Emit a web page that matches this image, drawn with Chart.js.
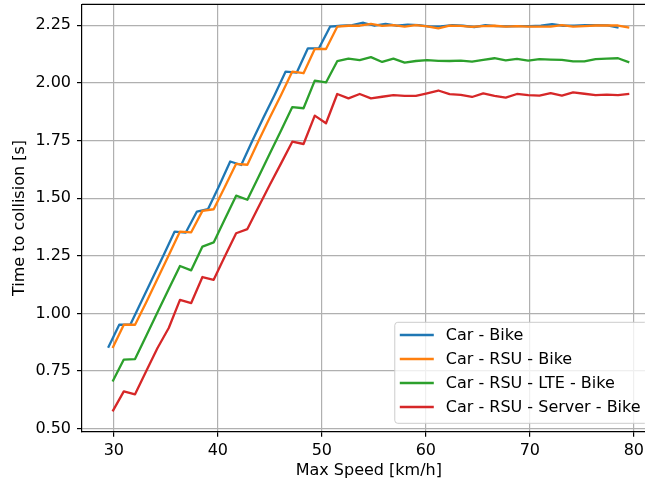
<!DOCTYPE html>
<html>
<head>
<meta charset="utf-8">
<script src="https://cdn.jsdelivr.net/npm/chart.js@4.4.0/dist/chart.umd.min.js"></script>
<style>
  html, body { margin: 0; padding: 0; background: #ffffff; overflow: hidden; width: 645px; height: 484px; }
  #wrap { position: absolute; left: 0; top: 0; width: 660px; height: 484px; }
</style>
</head>
<body>
<div id="wrap"><canvas id="c" width="660" height="484"></canvas></div>
<script>
// ---- data ----
const seriesNames = ['Car - Bike', 'Car - RSU - Bike', 'Car - RSU - LTE - Bike', 'Car - RSU - Server - Bike'];
const seriesColors = ['#1f77b4', '#ff7f0e', '#2ca02c', '#d62728'];

// speeds [km/h] for "Car - Bike"
const speedCarBike = [29.45, 30.52, 31.58, 32.65, 33.72, 34.79, 35.85, 36.92, 37.99, 39.05,
  40.12, 41.19, 42.25, 43.32, 44.39, 45.46, 46.52, 47.59, 48.66, 49.72,
  50.79, 51.86, 52.92, 53.99, 55.06, 56.13, 57.19, 58.26, 59.33, 60.39,
  61.46, 62.53, 63.59, 64.66, 65.73, 66.80, 67.86, 68.93, 70.00, 71.06,
  72.13, 73.20, 74.26, 75.33, 76.40, 77.47, 78.53];
// speeds [km/h] for the RSU variants
const speedRSU = [29.88, 30.96, 32.04, 33.12, 34.20, 35.28, 36.36, 37.44, 38.52, 39.60,
  40.68, 41.76, 42.84, 43.92, 45.00, 46.08, 47.16, 48.24, 49.32, 50.40,
  51.48, 52.56, 53.64, 54.72, 55.80, 56.88, 57.96, 59.04, 60.12, 61.20,
  62.28, 63.36, 64.44, 65.52, 66.60, 67.68, 68.76, 69.84, 70.92, 72.00,
  73.08, 74.16, 75.24, 76.32, 77.40, 78.48, 79.56];

const ttcCarBike = [0.851, 0.951, 0.951, 1.052, 1.153, 1.254, 1.355, 1.351, 1.442, 1.452,
  1.553, 1.659, 1.644, 1.749, 1.850, 1.948, 2.049, 2.045, 2.150, 2.150,
  2.244, 2.248, 2.251, 2.261, 2.248, 2.256, 2.248, 2.253, 2.251, 2.244,
  2.245, 2.251, 2.248, 2.242, 2.251, 2.246, 2.245, 2.246, 2.246, 2.248,
  2.255, 2.248, 2.248, 2.251, 2.251, 2.250, 2.240];
const ttcRSU = [0.850, 0.951, 0.951, 1.049, 1.150, 1.252, 1.355, 1.352, 1.445, 1.452,
  1.550, 1.649, 1.645, 1.749, 1.850, 1.948, 2.049, 2.042, 2.147, 2.147,
  2.244, 2.248, 2.248, 2.256, 2.247, 2.251, 2.244, 2.251, 2.245, 2.237,
  2.248, 2.247, 2.243, 2.246, 2.248, 2.244, 2.246, 2.244, 2.244, 2.244,
  2.251, 2.244, 2.246, 2.249, 2.249, 2.249, 2.240];
const ttcLTE = [0.705, 0.800, 0.802, 0.903, 1.005, 1.106, 1.206, 1.187, 1.290, 1.308,
  1.410, 1.511, 1.493, 1.593, 1.694, 1.794, 1.895, 1.890, 2.010, 2.002,
  2.094, 2.105, 2.099, 2.112, 2.091, 2.105, 2.088, 2.095, 2.099, 2.096,
  2.095, 2.097, 2.092, 2.100, 2.107, 2.098, 2.104, 2.097, 2.103, 2.101,
  2.100, 2.093, 2.093, 2.103, 2.105, 2.107, 2.089];
const ttcServer = [0.575, 0.662, 0.649, 0.750, 0.850, 0.937, 1.059, 1.045, 1.158, 1.146,
  1.248, 1.348, 1.366, 1.463, 1.558, 1.651, 1.745, 1.735, 1.858, 1.825,
  1.952, 1.933, 1.952, 1.933, 1.940, 1.947, 1.944, 1.944, 1.955, 1.967,
  1.951, 1.948, 1.939, 1.955, 1.944, 1.936, 1.952, 1.947, 1.945, 1.956,
  1.945, 1.959, 1.953, 1.947, 1.949, 1.947, 1.952];

const xTickValues = [30, 40, 50, 60, 70, 80];
const yTickValues = [0.50, 0.75, 1.00, 1.25, 1.50, 1.75, 2.00, 2.25];
const xAxisTitle = 'Max Speed [km/h]';
const yAxisTitle = 'Time to collision [s]';

// ---- chart ----
const FONT = '"DejaVu Sans", "Liberation Sans", sans-serif';
Chart.defaults.font.family = FONT;
Chart.defaults.font.size = 16;
Chart.defaults.color = '#000000';

const pairs = (xs, ys) => xs.map((x, i) => ({ x: x, y: ys[i] }));
const seriesX = [speedCarBike, speedRSU, speedRSU, speedRSU];
const seriesY = [ttcCarBike, ttcRSU, ttcLTE, ttcServer];

const datasets = seriesNames.map((name, i) => ({
  label: name,
  data: pairs(seriesX[i], seriesY[i]),
  borderColor: seriesColors[i],
  backgroundColor: seriesColors[i],
  borderWidth: 2.3,
  pointRadius: 0,
  tension: 0,
  fill: false,
  borderJoinStyle: 'round',
  borderCapStyle: 'butt',
  order: seriesNames.length - i
}));

const framePlugin = {
  id: 'frame',
  afterDraw(chart) {
    const { ctx, chartArea: a } = chart;
    ctx.save();
    ctx.strokeStyle = '#000000';
    ctx.lineWidth = 1.2;
    ctx.beginPath();
    ctx.moveTo(a.left, a.top);
    ctx.lineTo(a.right, a.top);
    ctx.lineTo(a.right, a.bottom);
    ctx.stroke();
    ctx.restore();
  }
};

const legendPlugin = {
  id: 'mplLegend',
  afterDraw(chart) {
    const { ctx, chartArea: a } = chart;
    ctx.save();
    ctx.font = '16px ' + FONT;
    const tw = Math.max(...seriesNames.map(n => ctx.measureText(n).width));
    const right = a.right - 8;
    const bottom = a.bottom - 8.4;
    const w = 5 + 34 + 12 + tw + 7;
    const h = 101;
    const left = right - w;
    const top = bottom - h;
    const r = 3;
    ctx.beginPath();
    ctx.moveTo(left + r, top);
    ctx.lineTo(right - r, top);
    ctx.arcTo(right, top, right, top + r, r);
    ctx.lineTo(right, bottom - r);
    ctx.arcTo(right, bottom, right - r, bottom, r);
    ctx.lineTo(left + r, bottom);
    ctx.arcTo(left, bottom, left, bottom - r, r);
    ctx.lineTo(left, top + r);
    ctx.arcTo(left, top, left + r, top, r);
    ctx.closePath();
    ctx.fillStyle = 'rgba(255,255,255,0.8)';
    ctx.fill();
    ctx.strokeStyle = '#cccccc';
    ctx.lineWidth = 1;
    ctx.stroke();
    ctx.textBaseline = 'middle';
    ctx.textAlign = 'left';
    seriesNames.forEach((name, i) => {
      const cy = top + 12.7 + i * 24;
      ctx.strokeStyle = seriesColors[i];
      ctx.lineWidth = 2.3;
      ctx.beginPath();
      ctx.moveTo(left + 5, cy);
      ctx.lineTo(left + 39, cy);
      ctx.stroke();
      ctx.fillStyle = '#000000';
      ctx.fillText(name, left + 51, cy + 1);
    });
    ctx.restore();
  }
};

new Chart(document.getElementById('c'), {
  type: 'line',
  data: { datasets: datasets },
  options: {
    responsive: false,
    animation: false,
    devicePixelRatio: 1,
    layout: { padding: { left: 0, right: 4.4, top: 4.3, bottom: 0 } },
    plugins: { legend: { display: false }, tooltip: { enabled: false } },
    scales: {
      x: {
        type: 'linear',
        min: 26.94,
        max: 82.09,
        afterBuildTicks: s => { s.ticks = xTickValues.map(v => ({ value: v })); },
        afterFit: s => { s.height = 52.3; s.paddingLeft = 0; s.paddingRight = 0; s.paddingTop = 0; s.paddingBottom = 0; },
        ticks: { padding: 5, font: { size: 16 }, color: '#000', callback: v => String(v) },
        grid: { color: '#b0b0b0', lineWidth: 1.2, tickColor: '#000', tickLength: 5, tickWidth: 1.2 },
        border: { display: true, color: '#000', width: 1.2 },
        title: { display: true, text: xAxisTitle, font: { size: 16 }, color: '#000', padding: { top: 0, bottom: 3.4 } }
      },
      y: {
        type: 'linear',
        min: 0.487,
        max: 2.341,
        afterBuildTicks: s => { s.ticks = yTickValues.map(v => ({ value: v })); },
        afterFit: s => { s.width = 82; s.paddingLeft = 0; s.paddingRight = 0; s.paddingTop = 0; s.paddingBottom = 0; },
        ticks: { padding: 6, font: { size: 16 }, color: '#000', callback: v => Number(v).toFixed(2) },
        grid: { color: '#b0b0b0', lineWidth: 1.2, tickColor: '#000', tickLength: 5, tickWidth: 1.2 },
        border: { display: true, color: '#000', width: 1.2 },
        title: { display: true, text: yAxisTitle, font: { size: 16 }, color: '#000', padding: { top: 10.4, bottom: 0 } }
      }
    }
  },
  plugins: [framePlugin, legendPlugin]
});
</script>
</body>
</html>
